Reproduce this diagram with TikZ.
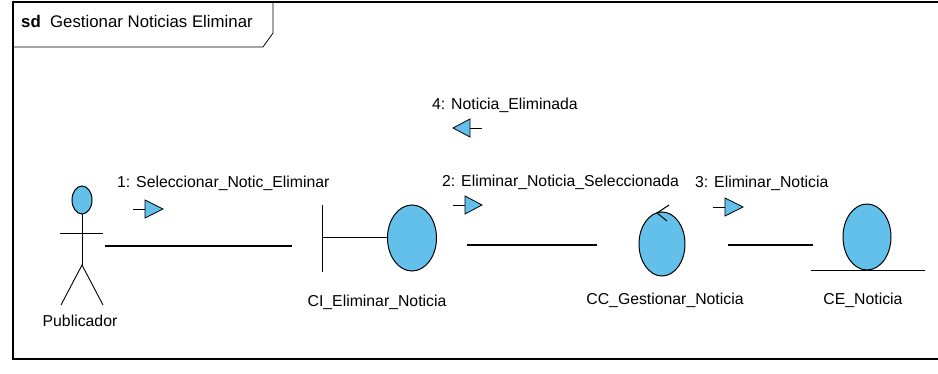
\documentclass[tikz,border=0pt]{standalone}
\usepackage{fontspec}
\setmainfont{Liberation Sans}
\usetikzlibrary{positioning,shapes.geometric}

\definecolor{umlblue}{RGB}{99,192,235}
\tikzset{
  lbl/.style={inner sep=0pt,font=\fontsize{15.8}{18}\selectfont},
  obj/.style={draw=black,fill=umlblue,ellipse,line width=1pt,inner sep=0pt},
  link/.style={line width=1.1pt},
  msgtri/.style={draw=black,fill=umlblue,line width=0.8pt,line join=miter},
}

\begin{document}
\begin{tikzpicture}[x=1pt,y=-1pt]
\useasboundingbox (0,0) rectangle (938,374);

%Frame
\draw [line width=1.2pt]    (940,2) -- (13,2) -- (13,359) -- (940,359) ;
\draw [line width=0.8pt]    (13,47) -- (263,47) -- (273,33) -- (273,2) ;

% Text Node
\node [lbl,anchor=west,font=\fontsize{16.8}{19}\selectfont] (title) at (21,21) {\textbf{sd}\ \ Gestionar Noticias Eliminar};

%Actor
\node [obj,minimum width=20pt,minimum height=28pt] (head) at (82,200) {};
\draw [line width=0.9pt]    (head.south) -- (82,265) ;
\draw [line width=0.9pt]    (60,233) -- (103,233) ;
\draw [line width=0.9pt]    (61,305) -- (82,265) -- (103,305) ;
% Text Node
\node [lbl] (pub) at (80,321) {Publicador};

%Boundary
\node [obj,minimum width=49pt,minimum height=66pt] (ci) at (412,238) {};
\draw [line width=1pt]    (322,205) -- (322,272) ;
\draw [line width=1pt]    (322,238) -- (ci.west) ;
% Text Node
\node [lbl] (cilbl) at (377,302) {CI\_Eliminar\_Noticia};

%Control
\node [obj,minimum width=46pt,minimum height=64pt] (cc) at (662,244) {};
\draw [line width=1pt]    (669,205) -- (657,213) -- (667,221) ;
% Text Node
\node [lbl] (cclbl) at (665,300) {CC\_Gestionar\_Noticia};

%Entity
\node [obj,minimum width=48pt,minimum height=66pt] (ce) at (867,237) {};
\draw [line width=1pt]    (811,271) -- (925,271) ;
% Text Node
\node [lbl] (celbl) at (863,300) {CE\_Noticia};

%Links
\coordinate (pubR) at (105,246);
\coordinate (ciL) at (292,246);
\coordinate (ciR) at (467,245);
\coordinate (ccL) at (597,245);
\coordinate (ccR) at (728,245);
\coordinate (ceL) at (813,245);
\draw [link]    (pubR) -- (ciL) ;
\draw [link]    (ciR) -- (ccL) ;
\draw [link]    (ccR) -- (ceL) ;

%Messages
% Text Node
\node [lbl,anchor=west] (m1) at (117,183) {1: Seleccionar\_Notic\_Eliminar};
\draw [line width=0.9pt]    (133,209) -- (145,209) ;
\draw [msgtri]    (145,200) -- (163,209) -- (145,218) -- cycle ;
% Text Node
\node [lbl,anchor=west] (m2) at (442,182) {2: Eliminar\_Noticia\_Seleccionada};
\draw [line width=0.9pt]    (453,205) -- (465,205) ;
\draw [msgtri]    (465,196) -- (482,205) -- (465,214) -- cycle ;
% Text Node
\node [lbl,anchor=west] (m3) at (695,183) {3: Eliminar\_Noticia};
\draw [line width=0.9pt]    (713,207) -- (725,207) ;
\draw [msgtri]    (725,198) -- (743,207) -- (725,216) -- cycle ;
% Text Node
\node [lbl,anchor=west] (m4) at (432,105) {4: Noticia\_Eliminada};
\draw [line width=0.9pt]    (470,128) -- (482,128) ;
\draw [msgtri]    (470,119) -- (453,128) -- (470,137) -- cycle ;

\end{tikzpicture}
\end{document}
